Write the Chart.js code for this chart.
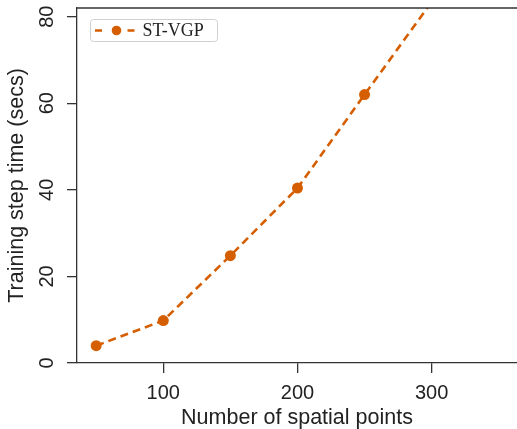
<!DOCTYPE html>
<html>
<head>
<meta charset="utf-8">
<script src="https://cdn.jsdelivr.net/npm/chart.js@4"></script>
<style>
  html, body { margin: 0; padding: 0; background: #fff; }
  #wrap { width: 517px; height: 429px; }
</style>
</head>
<body>
<div id="wrap"><canvas id="myChart" width="517" height="429"></canvas></div>
<script>
const puntos = [50, 100, 150, 200, 250, 300];
const tiempos = [4.0, 9.8, 24.8, 40.4, 62.0, 83.4];
const xTicks = [100, 200, 300];
const yTicks = [0, 20, 40, 60, 80];

const naranja = "#d55e00";
const eje = "#333333";

// no extra room for overhanging tick labels
function sinPadding(s) {
  s.paddingTop = 0;
  s.paddingBottom = 0;
  s.paddingLeft = 0;
  s.paddingRight = 0;
}

// top spine + legend box with dashes and a marker
const marco = {
  id: "marco",
  afterDraw(chart) {
    const c = chart.ctx;
    const a = chart.chartArea;
    c.save();
    c.strokeStyle = eje;
    c.lineWidth = 1.3;
    c.beginPath();
    c.moveTo(a.left, a.top);
    c.lineTo(a.right, a.top);
    c.stroke();

    const ds = chart.data.datasets[0];
    const bx = a.left + 13.5, by = a.top + 11.5, bw = 127, bh = 22;
    c.fillStyle = "rgba(255,255,255,0.8)";
    c.strokeStyle = "#d0d0d0";
    c.lineWidth = 1;
    c.beginPath();
    c.roundRect(bx, by, bw, bh, 3);
    c.fill();
    c.stroke();

    const ly = by + bh / 2;
    c.strokeStyle = ds.borderColor;
    c.lineWidth = ds.borderWidth;
    c.beginPath();
    c.moveTo(bx + 4.5, ly);
    c.lineTo(bx + 11.5, ly);
    c.moveTo(bx + 37, ly);
    c.lineTo(bx + 44, ly);
    c.stroke();
    c.fillStyle = ds.pointBackgroundColor;
    c.beginPath();
    c.arc(bx + 26, ly, 4.8, 0, Math.PI * 2);
    c.fill();

    c.fillStyle = "#222";
    c.font = "18px 'Liberation Serif'";
    c.textBaseline = "middle";
    c.fillText(ds.label, bx + 52, ly + 1);
    c.restore();
  }
};

const ctx = document.getElementById("myChart").getContext("2d");
const myChart = new Chart(ctx, {
  type: "line",
  data: {
    datasets: [
      {
        label: "ST-VGP",
        data: puntos.map((p, i) => ({ x: p, y: tiempos[i] })),
        borderColor: naranja,
        borderWidth: 2.6,
        borderDash: [8, 5],
        pointBackgroundColor: naranja,
        pointBorderWidth: 0,
        pointRadius: 5.5,
        fill: false,
        tension: 0,
        clip: 0,
      },
    ],
  },
  options: {
    responsive: false,
    animation: false,
    events: [],
    layout: { autoPadding: false, padding: { left: 0, right: 0, top: 8, bottom: 0 } },
    plugins: {
      legend: { display: false },
      tooltip: { enabled: false },
    },
    scales: {
      x: {
        type: "linear",
        min: 35.7,
        max: 363.6,
        afterFit: s => { s.height = 66; sinPadding(s); },
        afterBuildTicks: s => { s.ticks = xTicks.map(v => ({ value: v })); },
        grid: { drawOnChartArea: false, drawTicks: true, tickLength: 10, color: eje, lineWidth: 1.3 },
        border: { display: true, color: eje, width: 1.3 },
        ticks: {
          includeBounds: false,
          color: "#222",
          padding: 8,
          maxRotation: 0,
          font: { family: "'Liberation Sans'", size: 20 },
        },
        title: {
          display: true,
          text: "Number of spatial points",
          color: "#222",
          padding: { top: 0, bottom: -2 },
          font: { family: "'Liberation Sans'", size: 21.5 },
        },
      },
      y: {
        min: 0,
        max: 82,
        afterFit: s => { s.width = 77; sinPadding(s); },
        afterBuildTicks: s => { s.ticks = yTicks.map(v => ({ value: v })); },
        grid: { drawOnChartArea: false, drawTicks: true, tickLength: 10, color: eje, lineWidth: 1.3 },
        border: { display: true, color: eje, width: 1.3 },
        ticks: {
          includeBounds: false,
          color: "#222",
          padding: 8,
          minRotation: 90,
          maxRotation: 90,
          crossAlign: "center",
          font: { family: "'Liberation Sans'", size: 20 },
        },
        title: {
          display: true,
          text: "Training step time (secs)",
          color: "#222",
          padding: { top: 4, bottom: 0 },
          font: { family: "'Liberation Sans'", size: 21.5 },
        },
      },
    },
  },
  plugins: [marco],
});
</script>
</body>
</html>
